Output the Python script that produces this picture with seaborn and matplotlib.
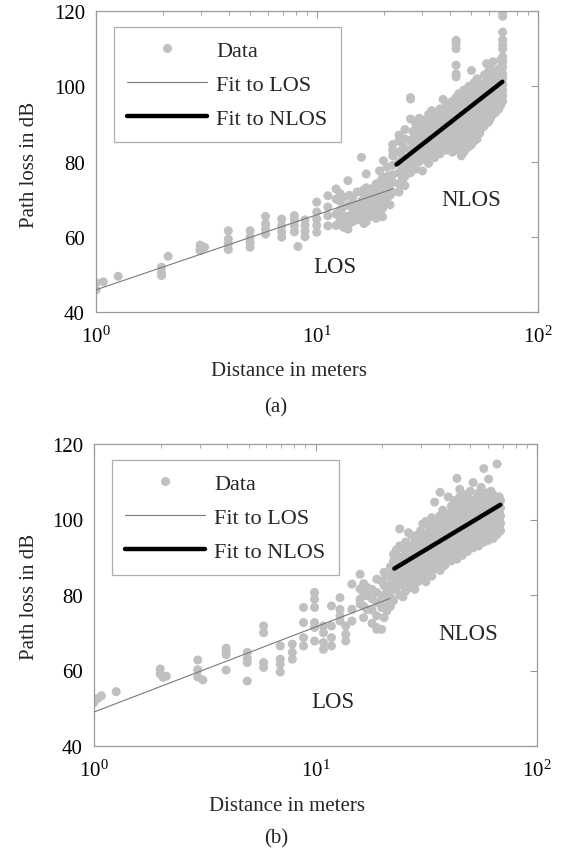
import matplotlib
matplotlib.use("Agg")
import numpy as np
import pandas as pd
import seaborn as sns
import matplotlib.pyplot as plt
from matplotlib.lines import Line2D
from matplotlib.ticker import LogLocator, NullFormatter, FixedLocator, FixedFormatter

# ---------------- data ----------------
# Panel (a): distances (m) and the path-loss values (dB) measured at each distance
a_dist = [1.0, 1.08, 1.26, 1.98, 2.12, 2.96, 3.1, 3.97, 4.98, 5.85, 6.92, 7.9, 8.2, 8.83,
          9.97, 11.2, 12.2, 13.2, 13.8, 14.5, 15.2, 15.9, 16.7, 17.5, 18.5, 19.8, 20.0,
          21.4, 22.0, 23.5, 25.0, 26.5, 28.0, 30.0, 32.0, 34.0, 36.0, 38.5, 41.0, 42.6,
          45.0, 47.5, 50.0, 53.0, 56.0, 58.5, 61.0, 64.0, 66.5, 69.2,
          12.7, 14.0, 16.3, 18.0, 19.2, 20.7, 24.2, 27.2, 29.0, 31.0, 33.0, 35.0, 37.2,
          39.7, 43.8, 46.2, 48.7, 51.5, 54.5, 57.2, 59.8, 62.5, 65.2, 67.8]
a_db = [[45.9, 47.8], [48.0], [49.5], [49.7, 50.5, 51.9], [54.8], [56.3, 56.8, 57.8], [57.2],
        [56.6, 58.1, 59.4, 61.6], [57.2, 58.5, 59.9, 61.6], [60.7, 62.1, 63.4, 65.4],
        [59.9, 61.3, 62.9, 64.7], [61.3, 62.9, 64.5, 65.6], [57.4], [60.0, 61.5, 63.0, 64.5],
        [61.2, 63.0, 64.7, 66.6, 69.2], [62.9, 65.6, 67.9, 70.9], [63.0, 66.0, 70.0, 72.7],
        [62.5, 64.5, 65.6, 68.0, 70.5], [62.0, 64.0, 74.9], [64.0, 66.0, 67.4, 69.0, 70.6],
        [64.5, 66.5, 68.5, 71.9], [65.0, 67.0, 69.5, 72.0, 81.1],
        [64.0, 66.5, 68.5, 70.5, 73.0, 76.7], [65.5, 67.5, 69.4, 71.5],
        [64.9, 66.2, 68.0, 70.5, 71.9, 74.0], [65.3, 67.5, 70.0, 73.7, 75.8], [80.2],
        [68.5, 71.0, 72.5, 74.9, 76.2], [71.8, 74.5, 76.5, 79.0, 81.5, 83.0, 84.5],
        [71.9, 74.0, 77.0, 80.0, 82.5, 85.5, 87.0], [73.6, 76.0, 78.5, 81.0, 83.5, 86.0, 88.5],
        [77.0, 80.0, 83.0, 85.5, 91.3, 96.6, 97.0], [78.0, 80.5, 82.5, 84.5, 86.5, 88.5, 90.0],
        [77.5, 81.0, 83.5, 85.5, 87.5, 89.5, 91.0], [79.5, 82.0, 84.5, 86.5, 88.0, 90.0, 92.5],
        [81.0, 83.0, 85.0, 87.5, 89.5, 91.0, 93.0], [82.0, 84.5, 86.5, 88.5, 90.5, 92.0, 94.0],
        [83.0, 85.0, 87.5, 89.5, 91.5, 93.0, 95.5], [82.5, 85.5, 88.0, 90.0, 92.0, 94.0, 96.0],
        [84.0, 86.5, 89.5, 92.0, 94.5, 97.0, 102.5, 103.3, 105.6, 110.0, 111.3, 112.2],
        [81.5, 84.0, 86.5, 89.0, 91.5, 93.5, 95.5, 97.5],
        [83.5, 85.5, 88.0, 90.5, 93.0, 95.0, 97.0, 99.0],
        [84.5, 86.5, 89.0, 92.0, 94.5, 96.5, 98.5, 104.2],
        [86.0, 88.5, 90.5, 93.0, 95.5, 97.5, 99.5, 102.0],
        [89.0, 91.5, 94.0, 96.0, 98.0, 100.0], [90.5, 93.0, 95.5, 97.5, 99.5, 102.0, 106.0],
        [91.5, 94.0, 96.5, 98.5, 100.5, 102.5, 105.6], [93.0, 95.5, 97.5, 99.5, 101.5, 103.5],
        [94.0, 96.5, 98.5, 100.5, 102.5, 104.5],
        [96.0, 97.5, 99.0, 100.5, 102.0, 103.3, 105.1, 106.5, 107.8, 109.9, 111.0, 112.3,
         114.4, 118.6, 119.5],
        [64.5, 67.0, 69.5, 71.5], [63.5, 65.5, 68.5, 71.0], [63.5, 66.0, 68.0, 70.0, 72.5],
        [66.0, 69.0, 71.0, 73.0], [66.5, 68.5, 72.0, 74.5, 77.5],
        [69.0, 71.5, 73.5, 76.0, 78.5], [75.0, 78.0, 80.5, 83.0, 85.0],
        [79.0, 81.5, 84.0, 86.0, 88.0], [80.0, 82.5, 85.0, 87.0, 89.0, 91.5],
        [80.5, 83.0, 86.0, 88.0, 90.5], [82.5, 84.5, 87.0, 89.0, 91.5, 93.5],
        [83.5, 86.0, 88.0, 90.0, 92.5], [84.0, 86.5, 89.0, 91.0, 93.5, 96.5],
        [84.5, 87.0, 89.5, 91.5, 93.5, 95.5], [83.0, 85.5, 88.0, 90.5, 93.0, 95.5, 98.0],
        [82.5, 85.0, 87.5, 90.0, 92.5, 94.5, 96.5, 99.0],
        [84.0, 86.5, 89.0, 91.5, 94.0, 96.0, 98.0, 100.0],
        [85.5, 88.0, 90.0, 92.5, 95.0, 97.0, 99.0, 101.0],
        [87.5, 90.0, 92.5, 94.5, 96.5, 98.5, 100.5],
        [89.5, 92.0, 94.5, 96.5, 98.5, 100.5, 103.0],
        [90.5, 93.0, 95.5, 97.5, 99.5, 101.5, 104.0],
        [92.5, 95.0, 97.0, 99.0, 101.0, 103.0, 106.5],
        [93.5, 96.0, 98.0, 100.0, 102.0, 104.0],
        [95.0, 97.0, 99.0, 101.0, 103.0, 105.0, 107.0]]
a_los_fit_d = [1.0, 22.0]
a_los_fit_db = [45.9, 72.7]
a_nlos_fit_d = [22.9, 69.0]
a_nlos_fit_db = [79.2, 101.2]

# Panel (b)
b_dist = [1.0, 1.04, 1.08, 1.26, 1.99, 2.05, 2.12, 2.94, 3.1, 3.95, 4.92, 5.83, 6.93, 7.86,
          8.83, 9.9, 10.86, 11.8, 12.9, 13.7, 14.6, 15.9, 17.1, 18.9, 19.9, 21.0, 22.5, 24.0,
          25.5, 27.2, 29.0, 30.5, 32.5, 34.5, 36.5, 38.5, 41.0, 43.5, 46.0, 48.5, 51.5, 54.5,
          57.5, 60.5, 63.5, 66.0, 68.5,
          16.5, 18.0, 20.4, 21.8, 23.2, 24.8, 26.3, 28.1, 29.8, 31.5, 33.5, 35.5, 37.5, 39.7,
          42.2, 44.8, 47.2, 50.0, 53.0, 56.0, 59.0, 62.0, 65.0, 67.5]
b_db = [[51.5, 52.2], [52.6], [53.3], [54.4], [59.1, 60.4], [58.2], [58.5],
        [58.3, 60.2, 62.8], [57.5], [60.1, 64.2, 64.9, 65.9], [57.2, 62.1, 63.2, 64.8],
        [60.8, 62.1, 70.0, 71.8], [59.6, 61.6, 63.0, 66.5], [63.0, 64.8, 67.0],
        [66.5, 68.7, 72.7, 76.7], [67.8, 71.4, 72.7, 76.7, 78.9, 80.7], [65.6, 67.4, 70.0, 71.8],
        [66.5, 68.7, 71.8, 77.1], [73.1, 74.5, 76.2, 79.3], [67.8, 69.6, 71.8],
        [73.1, 76.2, 82.9], [77.6, 78.9, 81.6, 85.5], [76.2, 79.8, 82.0],
        [70.9, 71.4, 74.5, 78.0, 80.7, 84.2], [70.9, 76.7, 79.3, 83.7],
        [75.8, 78.0, 80.7, 82.4, 85.1], [78.5, 81.5, 84.0, 86.5, 89.0, 90.8],
        [80.0, 83.0, 85.5, 88.0, 90.0, 93.0, 97.5], [81.0, 84.0, 86.5, 89.0, 91.5, 94.0],
        [82.0, 84.5, 87.5, 90.0, 92.5, 95.7], [83.5, 86.0, 88.5, 91.0, 93.5, 96.0],
        [84.5, 87.0, 89.5, 92.0, 94.5, 98.8], [86.0, 88.5, 91.0, 93.0, 95.5, 98.0],
        [87.0, 89.5, 92.0, 94.0, 96.5, 99.0, 104.6],
        [86.5, 89.0, 91.5, 94.0, 96.0, 98.5, 101.0, 107.2],
        [88.0, 90.5, 93.0, 95.0, 97.5, 100.0], [89.0, 91.5, 94.0, 96.0, 98.5, 101.0, 103.5],
        [89.5, 92.1, 94.5, 97.0, 99.0, 101.5, 104.0, 110.9],
        [90.5, 93.0, 95.5, 97.5, 100.0, 102.5, 105.0],
        [91.5, 94.0, 96.5, 98.5, 100.5, 103.0, 106.0],
        [92.5, 95.0, 97.5, 99.5, 101.5, 104.0, 109.8],
        [93.0, 95.5, 98.0, 100.0, 102.0, 104.5, 107.0],
        [94.0, 96.5, 99.0, 101.0, 103.0, 105.5, 113.5],
        [94.5, 97.0, 99.5, 101.5, 103.5, 106.0, 110.7],
        [95.0, 97.5, 100.0, 102.0, 104.0, 106.5], [96.0, 98.0, 100.5, 102.5, 104.5, 114.7],
        [97.0, 99.0, 101.0, 103.0, 105.0],
        [74.0, 77.0, 80.0, 83.0], [72.5, 76.0, 79.0, 81.5], [74.0, 77.5, 80.0, 82.5, 86.0],
        [77.0, 79.5, 82.5, 84.5, 87.5], [82.0, 85.0, 87.5, 90.0, 92.0],
        [79.5, 82.5, 85.0, 87.5, 90.0, 92.5], [83.0, 85.5, 88.0, 90.5, 93.0, 96.5],
        [81.5, 84.0, 86.5, 89.0, 91.5, 94.0], [85.0, 87.5, 90.0, 92.5, 95.0, 97.0],
        [83.5, 86.0, 88.5, 91.0, 93.5, 96.0, 99.5],
        [85.0, 87.5, 90.0, 92.5, 95.0, 97.5, 100.5],
        [88.0, 90.5, 93.0, 95.5, 97.5, 100.0],
        [87.5, 90.0, 92.0, 94.5, 97.0, 99.0, 102.5],
        [89.5, 92.0, 94.5, 96.5, 99.0, 101.5, 106.0],
        [90.5, 93.0, 95.5, 97.5, 100.0, 102.5, 105.0],
        [91.5, 94.0, 96.5, 98.5, 101.0, 103.0, 106.0, 108.0],
        [92.0, 94.5, 97.0, 99.0, 101.5, 104.0, 106.5],
        [93.5, 96.0, 98.5, 100.5, 102.5, 105.0, 107.5],
        [94.0, 96.5, 99.0, 101.0, 103.0, 105.5],
        [95.0, 97.5, 100.0, 102.0, 104.0, 106.5, 108.5],
        [95.5, 98.0, 100.5, 102.5, 104.5, 107.0],
        [96.0, 98.5, 101.0, 103.0, 105.0, 107.5],
        [97.0, 99.5, 101.5, 103.5, 105.5],
        [98.0, 100.0, 102.0, 104.0, 106.0]]
b_los_fit_d = [1.0, 21.7]
b_los_fit_db = [49.0, 79.1]
b_nlos_fit_d = [22.7, 68.3]
b_nlos_fit_db = [87.0, 103.9]

y_ticks = [40, 60, 80, 100, 120]
x_ticks = [1, 10, 100]
x_tick_labels = [r"$10^{0}$", r"$10^{1}$", r"$10^{2}$"]
legend_labels = ["Data", "Fit to LOS", "Fit to NLOS"]

# ---------------- style ----------------
sns.set_style("white")
plt.rcParams["font.family"] = ["Liberation Serif", "DejaVu Serif"]
plt.rcParams["mathtext.fontset"] = "custom"
plt.rcParams["mathtext.rm"] = "Liberation Serif"
plt.rcParams["mathtext.it"] = "Liberation Serif:italic"

DOT = "#c0c0c0"
SPINE = "#9a9a9a"
FS = 15
FS_LEG = 16
FS_ANN = 16.5

W, H = 569, 854
fig = plt.figure(figsize=(W / 100, H / 100), dpi=100)


def frame(px_l, px_r, px_t, px_b):
    return [px_l / W, 1 - px_b / H, (px_r - px_l) / W, (px_b - px_t) / H]


def expand(dist, db):
    rows = [(d, v) for d, vals in zip(dist, db) for v in vals]
    return pd.DataFrame(rows, columns=["Distance", "PathLoss"])


def panel(rect, dist, db, lfd, lfy, nfd, nfy, los_pos, nlos_pos, xlab_px, cap_px, cap, ylab_y):
    ax = fig.add_axes(frame(*rect))
    df = expand(dist, db)
    sns.scatterplot(data=df, x="Distance", y="PathLoss", ax=ax, color=DOT, s=42,
                    edgecolor="none", linewidth=0, zorder=2, legend=False)
    sns.lineplot(x=lfd, y=lfy, ax=ax, color="#7a7a7a", linewidth=0.8, zorder=3)
    sns.lineplot(x=nfd, y=nfy, ax=ax, color="black", linewidth=3.2, zorder=4)
    ax.set_xscale("log")
    ax.set_xlim(1, 100)
    ax.set_ylim(40, 120)
    ax.xaxis.set_major_locator(FixedLocator(x_ticks))
    ax.xaxis.set_major_formatter(FixedFormatter(x_tick_labels))
    ax.xaxis.set_minor_locator(LogLocator(base=10, subs=np.arange(2, 10)))
    ax.xaxis.set_minor_formatter(NullFormatter())
    ax.set_yticks(y_ticks)
    ax.set_yticklabels([str(t) for t in y_ticks])
    ax.tick_params(which="both", direction="in", top=True, right=True, color=SPINE,
                   labelsize=FS, labelcolor="black")
    ax.tick_params(which="major", length=5, width=0.8)
    ax.tick_params(which="minor", length=3, width=0.6)
    ax.tick_params(axis="x", which="major", pad=10)
    ax.tick_params(axis="y", which="major", pad=8)
    for sp in ax.spines.values():
        sp.set_color(SPINE)
        sp.set_linewidth(0.9)
    ax.set_xlabel("")
    ax.set_ylabel("")
    ax.text(*los_pos, "LOS", fontsize=FS_ANN, ha="center", va="center", zorder=5)
    ax.text(*nlos_pos, "NLOS", fontsize=FS_ANN, ha="center", va="center", zorder=5)
    fig.text(xlab_px[0] / W, 1 - xlab_px[1] / H, "Distance in meters", fontsize=FS,
             ha="center", va="center")
    fig.text(cap_px[0] / W, 1 - cap_px[1] / H, cap, fontsize=FS, ha="center", va="center")
    fig.text(30 / W, 1 - ylab_y / H, "Path loss in dB", fontsize=FS, rotation=90,
             ha="center", va="center")
    handles = [
        Line2D([], [], linestyle="none", marker="o", markersize=6.5, markerfacecolor=DOT,
               markeredgecolor="none"),
        Line2D([], [], color="#7a7a7a", linewidth=0.8),
        Line2D([], [], color="black", linewidth=3.2),
    ]
    leg = ax.legend(handles, legend_labels, loc="upper left", bbox_to_anchor=(0.041, 0.947),
                    fontsize=FS_LEG, frameon=True, fancybox=False, handlelength=3.6,
                    handletextpad=0.4, labelspacing=0.6, borderpad=0.6, borderaxespad=0,
                    numpoints=1)
    leg.get_frame().set_edgecolor(SPINE)
    leg.get_frame().set_linewidth(0.9)
    return ax


panel((96, 538, 12, 313), a_dist, a_db, a_los_fit_d, a_los_fit_db, a_nlos_fit_d, a_nlos_fit_db,
      (12.06, 52.0), (49.8, 69.8), (289, 372), (276, 408), "(a)", 165)
panel((94, 537, 445, 747), b_dist, b_db, b_los_fit_d, b_los_fit_db, b_nlos_fit_d, b_nlos_fit_db,
      (12.0, 51.7), (49.0, 69.9), (287, 807), (276, 839), "(b)", 597)

fig.savefig("out.png", dpi=100)
